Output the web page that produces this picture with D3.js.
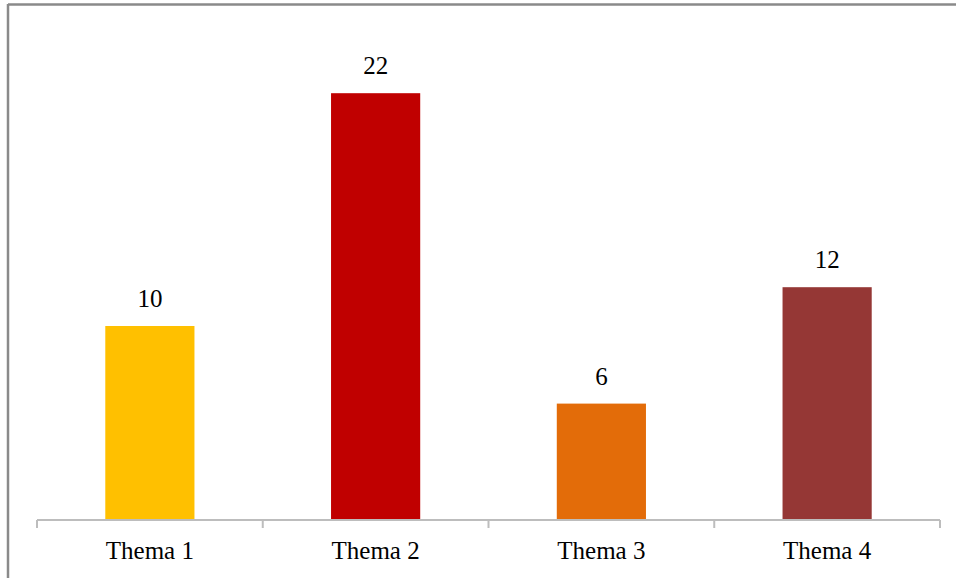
<!DOCTYPE html>
<html>
<head>
<meta charset="utf-8">
<script src="https://cdn.jsdelivr.net/npm/d3@7"></script>
<style>
  html, body { margin: 0; padding: 0; background: #fff; }
  svg { display: block; }
</style>
</head>
<body>
<svg id="chart" width="956" height="578"></svg>
<script>
// Chart data
const categories = ["Thema 1", "Thema 2", "Thema 3", "Thema 4"];
const values = [10, 22, 6, 12];
const barColors = ["#FFC000", "#C00000", "#E36C09", "#953735"];

const svg = d3.select("#chart");
const W = 956, H = 578;
const font = "'Liberation Serif', 'Times New Roman', serif";

// Frame around the chart (only top and left edges fall inside the view)
svg.append("line").attr("x1", 8).attr("x2", W).attr("y1", 4.5).attr("y2", 4.5)
  .attr("stroke", "#8a8a8a").attr("stroke-width", 2.5);
svg.append("line").attr("x1", 8).attr("x2", 8).attr("y1", 4).attr("y2", H)
  .attr("stroke", "#8a8a8a").attr("stroke-width", 2.5);

const plot = { left: 37, right: 940, top: 35, bottom: 520 };

const x = d3.scaleBand().domain(categories)
  .range([plot.left, plot.right]).paddingInner(0.605).paddingOuter(0.3025);
const y = d3.scaleLinear().domain([0, 25]).range([plot.bottom, plot.top]);

// Bars
svg.append("g").selectAll("rect").data(values).join("rect")
  .attr("x", (d, i) => x(categories[i]))
  .attr("width", x.bandwidth())
  .attr("y", d => y(d))
  .attr("height", d => y(0) - y(d))
  .attr("fill", (d, i) => barColors[i]);

// Value labels
svg.append("g").selectAll("text").data(values).join("text")
  .attr("x", (d, i) => x(categories[i]) + x.bandwidth() / 2)
  .attr("y", d => y(d) - 19)
  .attr("text-anchor", "middle")
  .attr("font-family", font)
  .attr("font-size", 25)
  .attr("fill", "#000")
  .text(d => d);

// Category axis
const xAxisScale = d3.scalePoint().domain(d3.range(categories.length + 1))
  .range([plot.left, plot.right]);
const axisG = svg.append("g").attr("transform", `translate(0,${plot.bottom})`);
axisG.append("line").attr("x1", plot.left).attr("x2", plot.right)
  .attr("stroke", "#bdbdbd").attr("stroke-width", 2);
axisG.selectAll("line.tick").data(xAxisScale.domain()).join("line")
  .attr("class", "tick")
  .attr("x1", d => xAxisScale(d)).attr("x2", d => xAxisScale(d))
  .attr("y1", 0).attr("y2", 8)
  .attr("stroke", "#bdbdbd").attr("stroke-width", 2);

axisG.selectAll("text").data(categories).join("text")
  .attr("x", d => x(d) + x.bandwidth() / 2)
  .attr("y", 39)
  .attr("text-anchor", "middle")
  .attr("font-family", font)
  .attr("font-size", 25)
  .attr("fill", "#000")
  .text(d => d);
</script>
</body>
</html>
